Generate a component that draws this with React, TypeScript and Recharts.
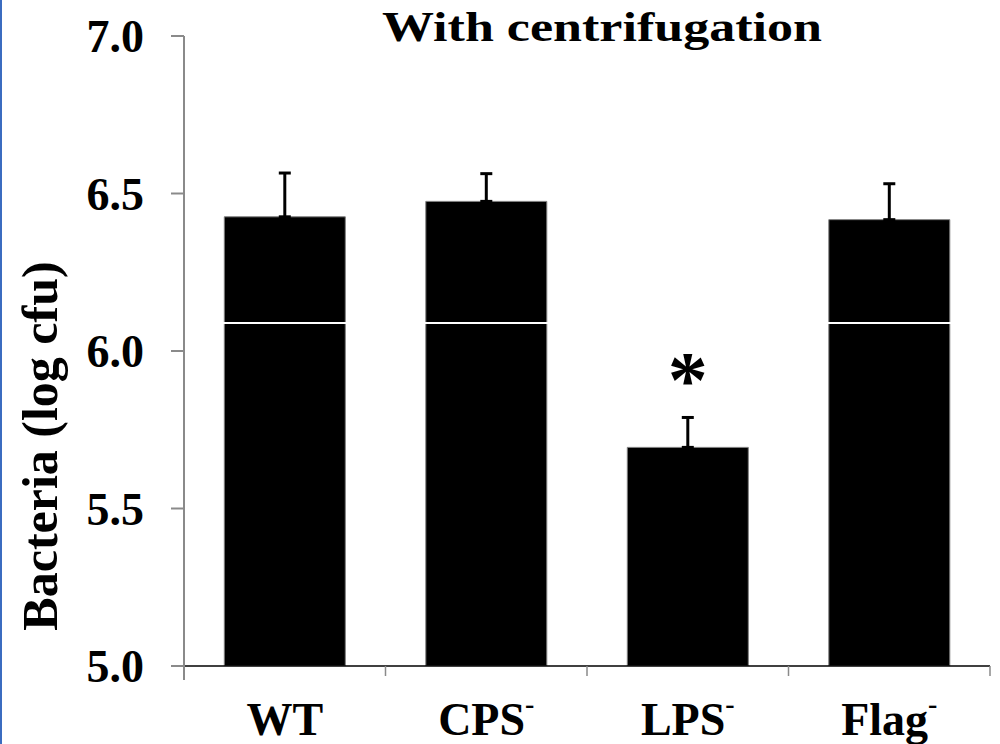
import React from 'react';
import { BarChart, Bar, XAxis, YAxis, ErrorBar, ReferenceLine, LabelList } from 'recharts';

const categories = ['WT', 'CPS', 'LPS', 'Flag'];
const superscripts = ['', '-', '-', '-'];
const meanValues = [6.426, 6.475, 5.694, 6.417];
const sdValues = [0.139, 0.088, 0.095, 0.114];
const significance = ['', '', '*', ''];
const yTicks = [5.0, 5.5, 6.0, 6.5, 7.0];
const referenceValue = 6.089;
const titleText = 'With centrifugation';
const yLabelText = 'Bacteria (log cfu)';

const data = categories.map((c, i) => ({
  name: c,
  value: meanValues[i],
  err: [0, sdValues[i]],
  sig: significance[i],
}));

const W = 1000;
const H = 744;
const MARGIN = { top: 36, right: 10, bottom: 18, left: 0 };
const Y_AXIS_W = 184;
const X_AXIS_H = 60;
const BAND = (W - MARGIN.left - MARGIN.right - Y_AXIS_W) / categories.length;
const FONT = '"Liberation Serif", "Times New Roman", Times, serif';
const GRAY = '#8a8a8a';

const XTick = (props: any) => {
  const { x, y, payload } = props;
  const idx = categories.indexOf(payload.value);
  const sup = superscripts[idx] || '';
  const isFirst = idx === 0;
  const isLast = idx === categories.length - 1;
  return (
    <g>
      <line x1={x - BAND / 2} x2={x - BAND / 2} y1={y} y2={isFirst ? y + 14 : y + 10} stroke={GRAY} strokeWidth={isFirst ? 2 : 1.5} />
      {isLast && <line x1={x + BAND / 2} x2={x + BAND / 2} y1={y} y2={y + 10} stroke={GRAY} strokeWidth={1.5} />}
      <text x={x} y={y + 69} textAnchor="middle" fontFamily={FONT} fontWeight="bold" fontSize={46} fill="#000">
        {payload.value}
        {sup && (
          <tspan fontSize={28} dy={-22}>{sup}</tspan>
        )}
      </text>
    </g>
  );
};

const YTick = (props: any) => {
  const { x, y, payload } = props;
  return (
    <text x={x} y={y + 16} textAnchor="end" fontFamily={FONT} fontWeight="bold" fontSize={46} fill="#000">
      {Number(payload.value).toFixed(1)}
    </text>
  );
};

const SigLabel = (props: any) => {
  const { x, y, width, value } = props;
  if (!value) return null;
  return (
    <text x={x + width / 2} y={y - 40} textAnchor="middle" fontFamily={FONT} fontWeight="bold" fontSize={80} fill="#000">
      {value}
    </text>
  );
};

export default function App() {
  return (
    <div style={{ position: 'absolute', left: 0, top: 0, width: W, height: H, background: '#fff' }}>
      <BarChart width={W} height={H} data={data} margin={MARGIN} barCategoryGap="20%">
        <XAxis
          dataKey="name"
          height={X_AXIS_H}
          axisLine={{ stroke: '#000', strokeWidth: 1.5 }}
          tickLine={false}
          tickSize={0}
          tickMargin={0}
          tick={<XTick />}
          interval={0}
        />
        <YAxis
          width={Y_AXIS_W}
          domain={[5, 7]}
          ticks={yTicks}
          type="number"
          allowDataOverflow
          axisLine={{ stroke: GRAY, strokeWidth: 2 }}
          tickLine={{ stroke: GRAY, strokeWidth: 2 }}
          tickSize={13}
          tickMargin={27}
          tick={<YTick />}
        />
        <Bar dataKey="value" fill="#000" stroke="#7f7f7f" strokeWidth={1} isAnimationActive={false}>
          <ErrorBar dataKey="err" direction="y" width={6} stroke="#000" strokeWidth={3} isAnimationActive={false} />
          <LabelList dataKey="sig" content={<SigLabel />} />
        </Bar>
        <ReferenceLine y={referenceValue} stroke="#fff" strokeWidth={2} ifOverflow="extendDomain" />
      </BarChart>
      <svg width={W} height={H} style={{ position: 'absolute', left: 0, top: 0, pointerEvents: 'none' }}>
        <rect x={0} y={0} width={2} height={H} fill="#3b6cc0" />
        <text x={602} y={41} textAnchor="middle" fontFamily={FONT} fontWeight="bold" fontSize={42} textLength={440} lengthAdjust="spacingAndGlyphs" fill="#000">
          {titleText}
        </text>
        <text x={57} y={446} transform="rotate(-90 57 446)" textAnchor="middle" fontFamily={FONT} fontWeight="bold" fontSize={50} fill="#000">
          {yLabelText}
        </text>
      </svg>
    </div>
  );
}
